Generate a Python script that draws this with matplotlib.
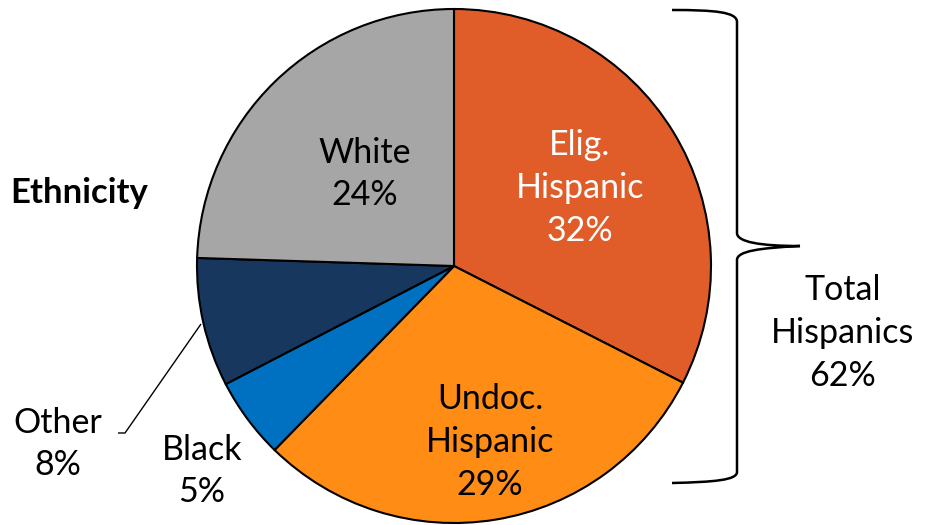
import matplotlib
matplotlib.use("Agg")
import matplotlib.pyplot as plt
from matplotlib.path import Path
from matplotlib.patches import PathPatch

# ---- data ----
categories = ["Elig.\nHispanic", "Undoc.\nHispanic", "Black", "Other", "White"]
values = [32.5, 29.8, 5.1, 8.1, 24.5]
pct_labels = ["32%", "29%", "5%", "8%", "24%"]
colors = ["#E05C28", "#FF8C14", "#0070C0", "#17375E", "#A6A6A6"]
total_label = "Total\nHispanics\n62%"
title = "Ethnicity"

W, H = 927, 525
plt.rcParams['font.family'] = ['Lato', 'DejaVu Sans']

fig = plt.figure(figsize=(W / 100, H / 100), dpi=100)
ax = fig.add_axes([0, 0, 1, 1])

def Y(y):
    return H - y

cx, cy, r = 454, 266, 257
ax.pie(values, colors=colors, startangle=90, counterclock=False,
       center=(cx, Y(cy)), radius=r, frame=True,
       wedgeprops=dict(edgecolor='black', linewidth=1.5))
ax.set_xlim(0, W)
ax.set_ylim(0, H)
ax.set_aspect('auto')
ax.axis('off')

fs = 24.5
ls = 1.42
lab_pos = [(580, 188), (490, 442), (202, 471), (58, 444), (365, 174)]
txt_col = ['white', 'black', 'black', 'black', 'black']
for cat, pct, (x, y), c in zip(categories, pct_labels, lab_pos, txt_col):
    ax.text(x, Y(y), f"{cat}\n{pct}", ha='center', va='center',
            fontsize=fs, color=c, linespacing=ls)

# leader line for "Other"
ax.plot([118, 125, 201], [Y(433), Y(433), Y(324)], color='black', lw=1.0,
        solid_capstyle='butt')

# curly brace
verts = [
    (672, 10), (715, 10), (737, 12), (737, 22),
    (737, 233),
    (737, 242), (760, 246), (800, 246),
    (760, 248), (737, 251), (737, 260),
    (737, 472),
    (737, 480), (715, 482), (672, 483),
]
codes = [Path.MOVETO, Path.CURVE4, Path.CURVE4, Path.CURVE4,
         Path.LINETO,
         Path.CURVE4, Path.CURVE4, Path.CURVE4,
         Path.CURVE4, Path.CURVE4, Path.CURVE4,
         Path.LINETO,
         Path.CURVE4, Path.CURVE4, Path.CURVE4]
verts = [(x, Y(y)) for x, y in verts]
ax.add_patch(PathPatch(Path(verts, codes), fill=False, edgecolor='black', lw=1.8))

ax.text(843, Y(333), total_label, ha='center', va='center', fontsize=fs,
        color='black', linespacing=ls)

ax.text(10, Y(193), title, ha='left', va='center', fontsize=25,
        fontweight='bold', color='black')

fig.savefig("out.png", dpi=100)
